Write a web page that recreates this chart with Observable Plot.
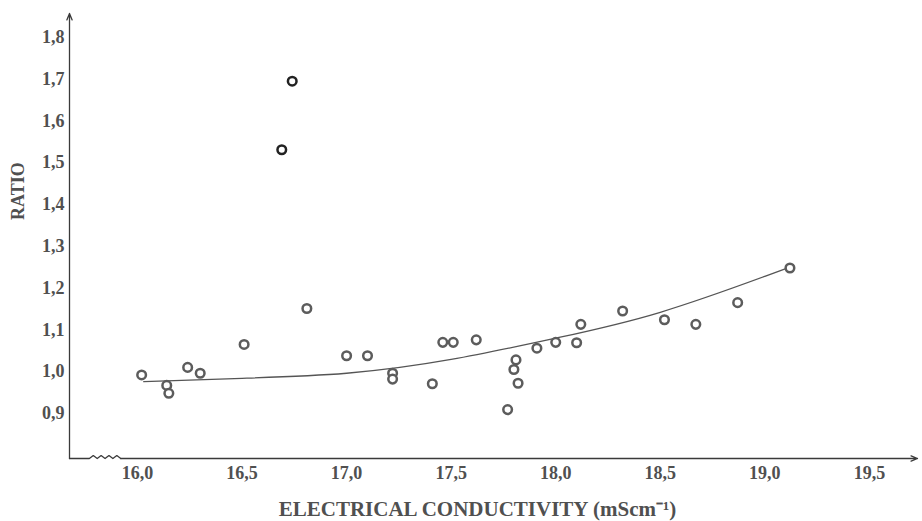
<!DOCTYPE html>
<html><head><meta charset="utf-8">
<script src="https://cdn.jsdelivr.net/npm/d3@7"></script>
<script src="https://cdn.jsdelivr.net/npm/@observablehq/plot@0.6"></script>
<style>body{margin:0;background:#fff}</style>
</head><body><div id="chart"></div>
<script>
const conductivity = [16.02, 16.14, 16.15, 16.24, 16.30, 16.51, 16.69, 16.74, 16.81, 17.00, 17.10, 17.22, 17.22, 17.41, 17.46, 17.51, 17.62, 17.77, 17.81, 17.80, 17.82, 17.91, 18.00, 18.10, 18.12, 18.32, 18.52, 18.67, 18.87, 19.12];
const ratio = [0.992, 0.967, 0.948, 1.010, 0.996, 1.065, 1.531, 1.695, 1.151, 1.038, 1.038, 0.996, 0.982, 0.971, 1.070, 1.070, 1.076, 0.909, 1.028, 1.005, 0.972, 1.056, 1.070, 1.069, 1.113, 1.145, 1.124, 1.113, 1.165, 1.248];
const darkIndex = [6, 7];
const fitConductivity = [16.03, 16.5, 17.0, 17.5, 18.0, 18.5, 19.0, 19.12];
const fitRatio = [0.976, 0.984, 0.996, 1.029, 1.080, 1.142, 1.228, 1.250];
const xTicks = [16.0, 16.5, 17.0, 17.5, 18.0, 18.5, 19.0, 19.5];
const yTicks = [0.9, 1.0, 1.1, 1.2, 1.3, 1.4, 1.5, 1.6, 1.7, 1.8];
const xDomain = [15.675, 19.73];
const yDomain = [0.792, 1.857];
const axisBreak = [15.77, 15.92];

const points = conductivity.map((c, i) => ({c, r: ratio[i], dark: darkIndex.includes(i)}));
const fit = fitConductivity.map((c, i) => ({c, r: fitRatio[i]}));
const fmt = d => d.toFixed(1).replace(".", ",");

const zig = [{c: xDomain[0], r: yDomain[0]}];
const nz = 8;
for (let i = 0; i <= nz; i++) {
  zig.push({c: axisBreak[0] + (axisBreak[1] - axisBreak[0]) * i / nz, r: yDomain[0] + (i % 2 ? 0.007 : 0)});
}
const axes = [
  {x1: axisBreak[1], y1: yDomain[0], x2: xDomain[1], y2: yDomain[0]},
  {x1: xDomain[0], y1: yDomain[0], x2: xDomain[0], y2: yDomain[1]}
];
const ink = "#3a3a3a";
const textInk = "#505050";

const chart = Plot.plot({
  width: 922, height: 521,
  marginLeft: 69, marginRight: 5, marginTop: 13, marginBottom: 63,
  x: {domain: xDomain},
  y: {domain: yDomain},
  style: {fontFamily: "Liberation Serif", background: "#fff"},
  marks: [
    Plot.axisX(xTicks, {tickSize: 0, tickPadding: 8, tickFormat: fmt, fontSize: 18, fontWeight: "bold", fill: textInk, label: null}),
    Plot.axisY(yTicks, {tickSize: 0, tickPadding: 5, tickFormat: fmt, fontSize: 18, fontWeight: "bold", fill: textInk, label: null}),
    Plot.line(zig, {x: "c", y: "r", stroke: ink, strokeWidth: 1.3}),
    Plot.arrow(axes, {x1: "x1", y1: "y1", x2: "x2", y2: "y2", stroke: ink, strokeWidth: 1.3, headLength: 8, headAngle: 45}),
    Plot.line(fit, {x: "c", y: "r", curve: "natural", stroke: "#555", strokeWidth: 1.3}),
    Plot.dot(points, {x: "c", y: "r", r: 4.3, fill: "#fff", stroke: d => d.dark ? "#222" : "#5c5c5c", strokeWidth: 2.5}),
    Plot.text(["RATIO"], {frameAnchor: "left", dx: -51, dy: -16, rotate: -90, fontSize: 18, fontWeight: "bold", fill: textInk}),
    Plot.text(["ELECTRICAL CONDUCTIVITY (mScm\u207B\u00B9)"], {frameAnchor: "bottom", dx: -16, dy: 57, lineAnchor: "bottom", fontSize: 21, fontWeight: "bold", fill: textInk})
  ]
});
document.getElementById("chart").appendChild(chart);
</script>
</body></html>
